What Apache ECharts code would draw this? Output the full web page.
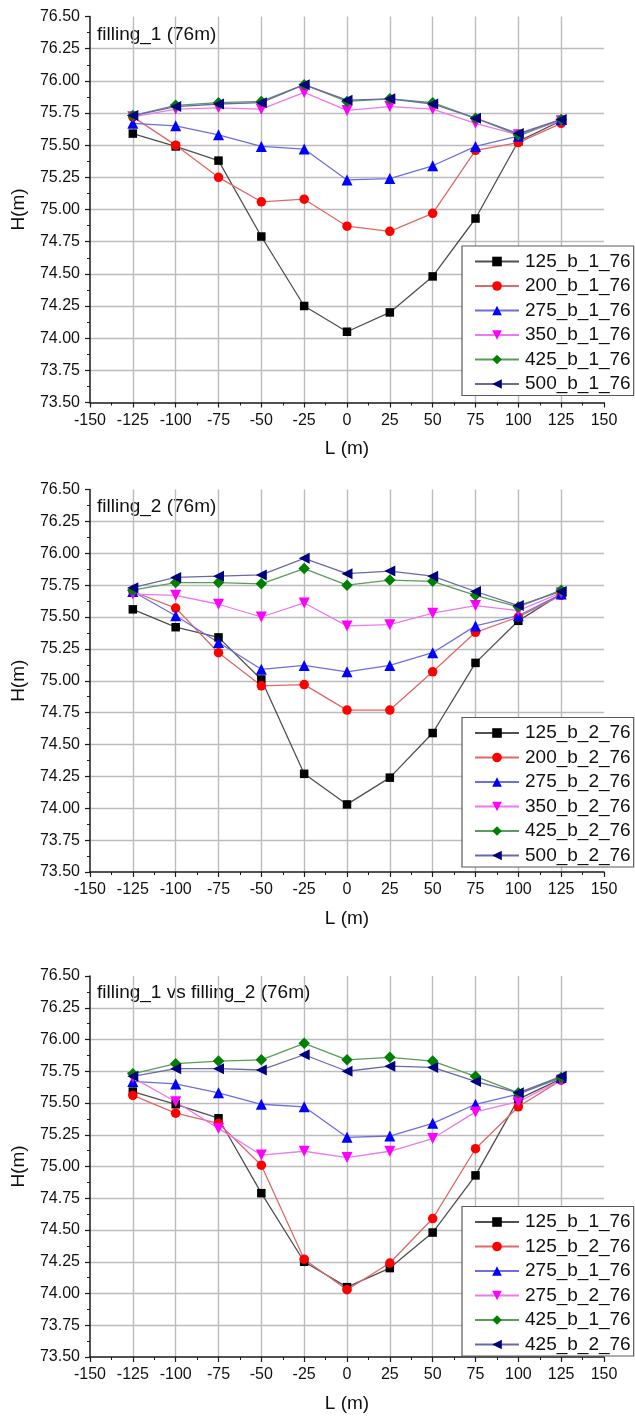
<!DOCTYPE html>
<html>
<head>
<meta charset="utf-8">
<title>Water level profiles, 76 m</title>
<script src="https://cdn.jsdelivr.net/npm/echarts@6/dist/echarts.min.js"></script>
<style>
  html, body { margin: 0; padding: 0; background: #ffffff; }
  .panel { position: absolute; left: 0; width: 635px; }
</style>
</head>
<body>
<div id="p1" class="panel" style="top:0px;height:470px"></div>
<div id="p2" class="panel" style="top:470px;height:480px"></div>
<div id="p3" class="panel" style="top:950px;height:468px"></div>
<script>
// Station positions along the section, L (m)
const stations = [-125, -100, -75, -50, -25, 0, 25, 50, 75, 100, 125];

// Axis ranges and steps
const xRange = [-150, 150], xStep = 25;
const yRange = [73.5, 76.5], yStep = 0.25;

// Titles
const panelTitles = ['filling_1 (76m)', 'filling_2 (76m)', 'filling_1 vs filling_2 (76m)'];

// Water level H (m), filling 1
const b1_125 = [75.59, 75.49, 75.38, 74.79, 74.25, 74.05, 74.20, 74.48, 74.93, 75.53, 75.69];
const b1_200 = [75.72, 75.50, 75.25, 75.06, 75.08, 74.87, 74.83, 74.97, 75.46, 75.52, 75.67];
const b1_275 = [75.67, 75.65, 75.58, 75.49, 75.47, 75.23, 75.24, 75.34, 75.49, 75.57, 75.70];
const b1_350 = [75.72, 75.78, 75.79, 75.78, 75.91, 75.77, 75.80, 75.78, 75.67, 75.58, 75.69];
const b1_425 = [75.73, 75.81, 75.83, 75.84, 75.97, 75.84, 75.86, 75.83, 75.71, 75.58, 75.70];
const b1_500 = [75.73, 75.80, 75.82, 75.83, 75.97, 75.85, 75.86, 75.82, 75.71, 75.59, 75.70];

// Water level H (m), filling 2
const b2_125 = [75.56, 75.42, 75.34, 75.01, 74.27, 74.03, 74.24, 74.59, 75.14, 75.47, 75.68];
const b2_200 = [75.70, 75.57, 75.22, 74.96, 74.97, 74.77, 74.77, 75.07, 75.38, 75.50, 75.67];
const b2_275 = [75.70, 75.51, 75.30, 75.09, 75.12, 75.07, 75.12, 75.22, 75.43, 75.51, 75.68];
const b2_350 = [75.68, 75.67, 75.60, 75.50, 75.61, 75.43, 75.44, 75.53, 75.59, 75.55, 75.69];
const b2_425 = [75.71, 75.77, 75.77, 75.76, 75.88, 75.75, 75.79, 75.78, 75.67, 75.58, 75.71];
const b2_500 = [75.73, 75.81, 75.82, 75.83, 75.96, 75.84, 75.86, 75.82, 75.70, 75.59, 75.70];

// Marker / line styles
const STY = {
  black:   { symbol: 'rect',     size: 8.5, rotate: 0,   marker: '#000000', line: '#505050' },
  red:     { symbol: 'circle',   size: 9.5, rotate: 0,   marker: '#ff0000', line: '#e06868' },
  blue:    { symbol: 'triangle', size: 11,  rotate: 0,   marker: '#0000ff', line: '#6e6ee0' },
  magenta: { symbol: 'triangle', size: 11,  rotate: 180, marker: '#ff00ff', line: '#ee78ee' },
  green:   { symbol: 'diamond',  size: 11.5, rotate: 0,  marker: '#008000', line: '#5a9c5a' },
  navy:    { symbol: 'triangle', size: 11,  rotate: 90,  marker: '#000080', line: '#6a6aa8' }
};

const panels = [
  {
    el: 'p1', gridTop: 16.5, gridH: 386, legendTop: 246, titleTop: 25,
    series: [
      ['125_b_1_76', b1_125, 'black'], ['200_b_1_76', b1_200, 'red'],
      ['275_b_1_76', b1_275, 'blue'],  ['350_b_1_76', b1_350, 'magenta'],
      ['425_b_1_76', b1_425, 'green'], ['500_b_1_76', b1_500, 'navy']
    ]
  },
  {
    el: 'p2', gridTop: 19.5, gridH: 382.5, legendTop: 247.5, titleTop: 27,
    series: [
      ['125_b_2_76', b2_125, 'black'], ['200_b_2_76', b2_200, 'red'],
      ['275_b_2_76', b2_275, 'blue'],  ['350_b_2_76', b2_350, 'magenta'],
      ['425_b_2_76', b2_425, 'green'], ['500_b_2_76', b2_500, 'navy']
    ]
  },
  {
    el: 'p3', gridTop: 26, gridH: 382.3, legendTop: 256.5, titleTop: 33,
    series: [
      ['125_b_1_76', b1_125, 'black'], ['125_b_2_76', b2_125, 'red'],
      ['275_b_1_76', b1_275, 'blue'],  ['275_b_2_76', b2_275, 'magenta'],
      ['425_b_1_76', b1_425, 'green'], ['425_b_2_76', b2_425, 'navy']
    ]
  }
];

const FONT = "'Liberation Sans', Arial, sans-serif";
const AXIS_COLOR = '#1a1a1a';
const GRID_COLOR = '#bcbcbc';

panels.forEach((p, idx) => {
  const chart = echarts.init(document.getElementById(p.el), null, { renderer: 'canvas' });
  const series = p.series.map(([name, values, key]) => {
    const s = STY[key];
    return {
      name: name,
      type: 'line',
      data: stations.map((x, i) => [x, values[i]]),
      symbol: s.symbol,
      symbolSize: s.size,
      symbolRotate: s.rotate,
      showAllSymbol: true,
      animation: false,
      lineStyle: { color: s.line, width: 1.3 },
      itemStyle: { color: s.marker },
      emphasis: { disabled: true }
    };
  });

  chart.setOption({
    animation: false,
    textStyle: { fontFamily: FONT },
    grid: { left: 90, top: p.gridTop, width: 514, height: p.gridH, containLabel: false },
    graphic: [{
      type: 'text', left: 97, top: p.titleTop,
      style: { text: panelTitles[idx], font: '19px ' + FONT, fill: '#111' }
    }],
    legend: {
      orient: 'vertical',
      left: 462,
      top: p.legendTop,
      backgroundColor: '#ffffff',
      borderColor: '#5a5a5a',
      borderWidth: 1.2,
      borderRadius: 0,
      padding: [6, 3, 2, 12],
      itemGap: 5.5,
      itemWidth: 44,
      itemHeight: 12,
      symbolRotate: 'inherit',
      selectedMode: false,
      textStyle: { fontFamily: FONT, fontSize: 19, color: '#111', padding: [0, 0, 0, 1] },
      data: p.series.map(d => d[0])
    },
    xAxis: {
      type: 'value',
      min: xRange[0], max: xRange[1], interval: xStep,
      name: 'L (m)', nameLocation: 'middle', nameGap: 37,
      nameTextStyle: { fontFamily: FONT, fontSize: 19, color: '#111' },
      axisLine: { show: true, onZero: false, lineStyle: { color: AXIS_COLOR, width: 1.5 } },
      axisTick: { show: true, length: 5, lineStyle: { color: AXIS_COLOR, width: 1.2 } },
      minorTick: { show: true, splitNumber: 2, length: 3, lineStyle: { color: AXIS_COLOR, width: 1 } },
      axisLabel: { fontFamily: FONT, fontSize: 16, color: '#111', margin: 10 },
      splitLine: { show: true, showMinLine: false, showMaxLine: false, lineStyle: { color: GRID_COLOR, width: 1.4 } }
    },
    yAxis: {
      type: 'value',
      min: yRange[0], max: yRange[1], interval: yStep,
      name: 'H(m)', nameLocation: 'middle', nameGap: 62,
      nameTextStyle: { fontFamily: FONT, fontSize: 19, color: '#111' },
      axisLine: { show: true, onZero: false, lineStyle: { color: AXIS_COLOR, width: 1.5 } },
      axisTick: { show: true, length: 5, lineStyle: { color: AXIS_COLOR, width: 1.2 } },
      minorTick: { show: true, splitNumber: 2, length: 3, lineStyle: { color: AXIS_COLOR, width: 1 } },
      axisLabel: { fontFamily: FONT, fontSize: 16, color: '#111', margin: 10,
                   formatter: v => v.toFixed(2) },
      splitLine: { show: true, showMinLine: false, showMaxLine: false, lineStyle: { color: GRID_COLOR, width: 1.4 } }
    },
    series: series
  });
});
</script>
</body>
</html>
